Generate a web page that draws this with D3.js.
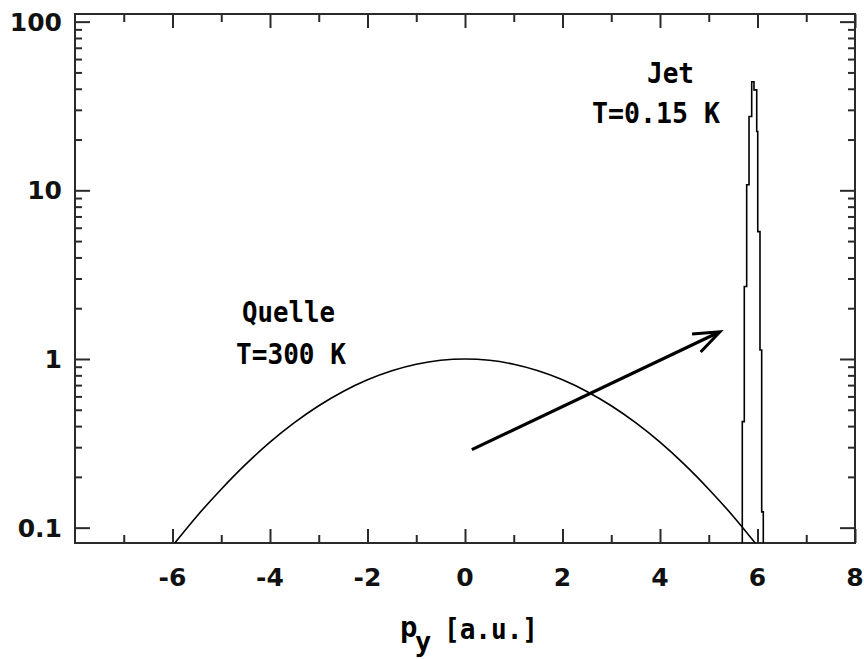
<!DOCTYPE html>
<html>
<head>
<meta charset="utf-8">
<script src="https://cdn.jsdelivr.net/npm/d3@7"></script>
<style>
  html, body { margin: 0; padding: 0; background: #fff; }
  svg { display: block; }
</style>
</head>
<body>
<svg id="chart" width="864" height="659"></svg>
<script>
// Momentum distribution: thermal source vs. cooled jet (log scale)
const xTicks = [-6, -4, -2, 0, 2, 4, 6, 8];
const xMinorTicks = [-7, -5, -3, -1, 1, 3, 5, 7];
const yTicks = [0.1, 1, 10, 100];
const yTickLabels = ["0.1", "1", "10", "100"];

// Source ("Quelle", T = 300 K): broad distribution
const quelleX = [-6, -5.5, -5, -4.5, -4, -3.5, -3, -2.5, -2, -1.5, -1, -0.5, 0,
                 0.5, 1, 1.5, 2, 2.5, 3, 3.5, 4, 4.5, 5, 5.5, 6];
const quelleY = [0.078, 0.117, 0.169, 0.237, 0.321, 0.419, 0.528, 0.642, 0.753, 0.852, 0.931, 0.982, 1.0,
                 0.982, 0.931, 0.852, 0.753, 0.642, 0.528, 0.419, 0.321, 0.237, 0.169, 0.117, 0.078];

// Jet (T = 0.15 K): narrow peak, drawn as steps
const jetX = [5.688, 5.729, 5.778, 5.826, 5.881, 5.928, 5.984, 6.005, 6.051, 6.086, 6.119, 6.119];
const jetY = [0.05, 0.425, 2.69, 10.8, 27.4, 44, 39.4, 22.3, 5.69, 1.13, 0.124, 0.05];

// Arrow from source to jet
const arrowFrom = [0.14, 0.29];
const arrowTo = [5.23, 1.45];

const labelsQuelle = ["Quelle", "T=300 K"];
const labelsJet = ["Jet", "T=0.15 K"];

const svg = d3.select("#chart");
const L = 75, R = 855, T = 14, B = 543;

const x = d3.scaleLinear().domain([-8, 8]).range([L, R]);
const y = d3.scaleLog().domain([0.0811, 111]).range([B, T]);

const axisColor = "#2a2a2a";
const tickFont = "'DejaVu Sans', sans-serif";
const annFont = "'DejaVu Sans Mono', monospace";

// Minor log ticks
const yMinor = [];
[0.1, 1, 10].forEach(d => { for (let k = 2; k <= 9; k++) yMinor.push(d * k); });

const gAxes = svg.append("g");

// Left axis
gAxes.append("g")
  .attr("transform", `translate(${L},0)`)
  .call(d3.axisRight(y).tickValues(yTicks).tickSize(15).tickFormat(""))
  .call(g => g.select(".domain").remove());
gAxes.append("g")
  .attr("transform", `translate(${L},0)`)
  .call(d3.axisRight(y).tickValues(yMinor).tickSize(7).tickFormat(""))
  .call(g => g.select(".domain").remove());
// Right axis
gAxes.append("g")
  .attr("transform", `translate(${R},0)`)
  .call(d3.axisLeft(y).tickValues(yTicks).tickSize(15).tickFormat(""))
  .call(g => g.select(".domain").remove());
gAxes.append("g")
  .attr("transform", `translate(${R},0)`)
  .call(d3.axisLeft(y).tickValues(yMinor).tickSize(7).tickFormat(""))
  .call(g => g.select(".domain").remove());
// Bottom axis
gAxes.append("g")
  .attr("transform", `translate(0,${B})`)
  .call(d3.axisTop(x).tickValues(xTicks).tickSize(14).tickFormat(""))
  .call(g => g.select(".domain").remove());
gAxes.append("g")
  .attr("transform", `translate(0,${B})`)
  .call(d3.axisTop(x).tickValues(xMinorTicks).tickSize(8).tickFormat(""))
  .call(g => g.select(".domain").remove());
// Top axis
gAxes.append("g")
  .attr("transform", `translate(0,${T})`)
  .call(d3.axisBottom(x).tickValues(xTicks).tickSize(14).tickFormat(""))
  .call(g => g.select(".domain").remove());
gAxes.append("g")
  .attr("transform", `translate(0,${T})`)
  .call(d3.axisBottom(x).tickValues(xMinorTicks).tickSize(8).tickFormat(""))
  .call(g => g.select(".domain").remove());

gAxes.selectAll(".tick line").attr("stroke", axisColor).attr("stroke-width", 2);

// Frame
svg.append("rect")
  .attr("x", L).attr("y", T).attr("width", R - L).attr("height", B - T)
  .attr("fill", "none").attr("stroke", axisColor).attr("stroke-width", 2);

// Tick labels
svg.append("g").selectAll("text").data(yTicks).join("text")
  .attr("x", 62).attr("y", d => y(d)).attr("dy", "0.36em")
  .attr("text-anchor", "end")
  .attr("font-family", tickFont).attr("font-weight", "bold").attr("font-size", 25)
  .attr("fill", "#111")
  .text((d, i) => yTickLabels[i]);

svg.append("g").selectAll("text").data(xTicks).join("text")
  .attr("x", d => x(d)).attr("y", 586)
  .attr("text-anchor", "middle")
  .attr("font-family", tickFont).attr("font-weight", "bold").attr("font-size", 25)
  .attr("fill", "#111")
  .text(d => d < 0 ? "-" + Math.abs(d) : String(d));

// Curves, clipped to plot frame
svg.append("clipPath").attr("id", "plotClip")
  .append("rect").attr("x", L).attr("y", T).attr("width", R - L).attr("height", B - T);
const plot = svg.append("g").attr("clip-path", "url(#plotClip)");

const quelle = quelleX.map((v, i) => [v, quelleY[i]]);
plot.append("path")
  .attr("d", d3.line().x(d => x(d[0])).y(d => y(d[1])).curve(d3.curveMonotoneX)(quelle))
  .attr("fill", "none").attr("stroke", "#000").attr("stroke-width", 1.6);

const jet = jetX.map((v, i) => [v, jetY[i]]);
plot.append("path")
  .attr("d", d3.line().x(d => x(d[0])).y(d => y(d[1])).curve(d3.curveStepBefore)(jet))
  .attr("fill", "none").attr("stroke", "#000").attr("stroke-width", 1.6);

// Arrow
const ax0 = x(arrowFrom[0]), ay0 = y(arrowFrom[1]);
const ax1 = x(arrowTo[0]), ay1 = y(arrowTo[1]);
const ang = Math.atan2(ay1 - ay0, ax1 - ax0);
const headLen = 28, headAng = 21 * Math.PI / 180;
svg.append("line")
  .attr("x1", ax0).attr("y1", ay0).attr("x2", ax1 - 3 * Math.cos(ang)).attr("y2", ay1 - 3 * Math.sin(ang))
  .attr("stroke", "#000").attr("stroke-width", 3.2);
svg.append("path")
  .attr("d", `M${ax1 - headLen * Math.cos(ang - headAng)},${ay1 - headLen * Math.sin(ang - headAng)}` +
             `L${ax1},${ay1}` +
             `L${ax1 - headLen * Math.cos(ang + headAng)},${ay1 - headLen * Math.sin(ang + headAng)}`)
  .attr("fill", "none").attr("stroke", "#000").attr("stroke-width", 3).attr("stroke-linejoin", "miter");

// Annotations
function ann(txt, x0, yb, w) {
  svg.append("text")
    .attr("x", x0).attr("y", yb)
    .attr("font-family", annFont).attr("font-weight", "bold").attr("font-size", 29)
    .attr("textLength", w).attr("lengthAdjust", "spacingAndGlyphs")
    .attr("fill", "#000")
    .text(txt);
}
ann(labelsQuelle[0], 242, 322, 93);
ann(labelsQuelle[1], 236, 364, 110);
ann(labelsJet[0], 647, 83, 47);
ann(labelsJet[1], 592, 123, 128);

// Axis title: p_y [a.u.]
const title = svg.append("text")
  .attr("font-family", annFont).attr("font-weight", "bold").attr("font-size", 29).attr("fill", "#000");
title.append("tspan").attr("x", 400).attr("y", 637).text("p");
title.append("tspan").attr("x", 415).attr("y", 651).attr("font-size", 27).text("y");
title.append("tspan").attr("x", 444).attr("y", 639).attr("textLength", 94)
  .attr("lengthAdjust", "spacingAndGlyphs").text("[a.u.]");
</script>
</body>
</html>
